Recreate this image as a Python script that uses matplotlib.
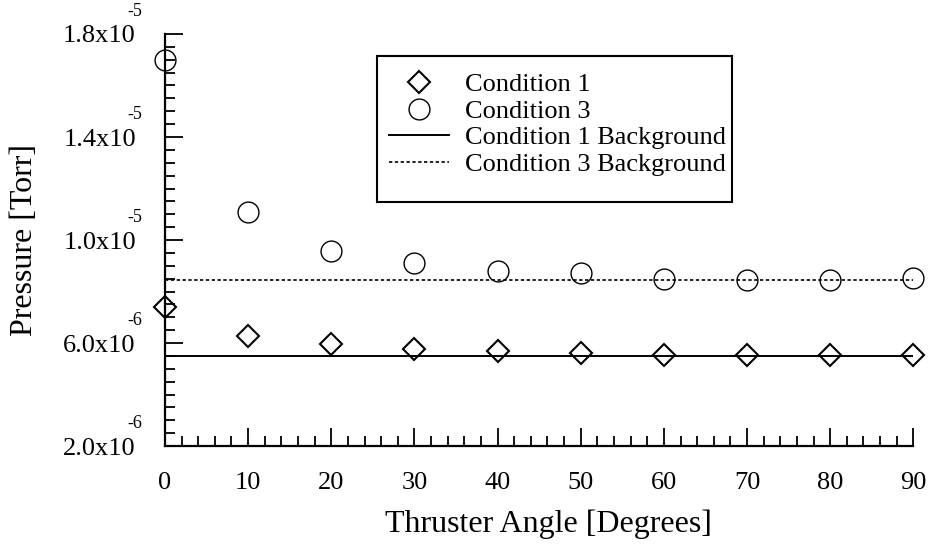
import matplotlib
matplotlib.use('Agg')
import matplotlib.pyplot as plt
from matplotlib.patches import Rectangle
from matplotlib.ticker import FixedLocator, FixedFormatter, MultipleLocator

plt.rcParams['font.family'] = ['Liberation Serif', 'DejaVu Serif']

# thruster angle in degrees
angles = [0, 10, 20, 30, 40, 50, 60, 70, 80, 90]
# pressures in Torr
cond1 = [7.4e-6, 6.27e-6, 5.96e-6, 5.77e-6, 5.69e-6, 5.61e-6, 5.53e-6, 5.53e-6, 5.53e-6, 5.53e-6]
cond3 = [1.70e-5, 1.109e-5, 9.57e-6, 9.11e-6, 8.8e-6, 8.72e-6, 8.5e-6, 8.43e-6, 8.43e-6, 8.52e-6]
cond1_bg = 5.5e-6
cond3_bg = 8.43e-6

ytick_vals = [2e-6, 6e-6, 1e-5, 1.4e-5, 1.8e-5]
ytick_mant = ['2.0x10', '6.0x10', '1.0x10', '1.4x10', '1.8x10']
ytick_exp = ['-6', '-6', '-5', '-5', '-5']
xtick_vals = [0, 10, 20, 30, 40, 50, 60, 70, 80, 90]

fig = plt.figure(figsize=(9.32, 5.48), dpi=100)
ax = fig.add_axes([0.177, 0.186, 0.803, 0.752])

ax.plot(angles, cond1, linestyle='none', marker='D', ms=11, mfc='none', mec='black',
        mew=1.5, clip_on=False, zorder=3, label='Condition 1')
ax.plot(angles, cond3, linestyle='none', marker='o', ms=15, mfc='none', mec='black',
        mew=1.0, clip_on=False, zorder=3, label='Condition 3')
ax.plot([angles[0], angles[-1]], [cond1_bg, cond1_bg], color='black', lw=1.4,
        label='Condition 1 Background')
ax.plot([angles[0], angles[-1]], [cond3_bg, cond3_bg], color='black', lw=1.2,
        linestyle=(0, (2, 1.5)), label='Condition 3 Background')

ax.set_xlim(0, 90)
ax.set_ylim(2e-6, 1.8e-5)

for side in ['top', 'right']:
    ax.spines[side].set_visible(False)
for side in ['left', 'bottom']:
    ax.spines[side].set_linewidth(1.6)

ax.xaxis.set_major_locator(FixedLocator(xtick_vals))
ax.xaxis.set_minor_locator(MultipleLocator(2))
ax.yaxis.set_major_locator(FixedLocator(ytick_vals))
ax.yaxis.set_major_formatter(FixedFormatter(ytick_mant))
ax.yaxis.set_minor_locator(MultipleLocator(0.5e-6))

ax.tick_params(which='both', direction='in', width=1.3, color='black')
ax.tick_params(which='major', length=13)
ax.tick_params(which='minor', length=7)
ax.tick_params(axis='x', which='major', pad=19, labelsize=19)
ax.tick_params(axis='y', which='major', pad=21, labelsize=19)

for val, ex in zip(ytick_vals, ytick_exp):
    ax.annotate(ex, xy=(0, val), xycoords=('axes fraction', 'data'),
                xytext=(-27, 16), textcoords='offset points',
                ha='left', va='center', fontsize=13, annotation_clip=False)

ax.set_xlabel('Thruster Angle [Degrees]', fontsize=23)
ax.set_ylabel('Pressure [Torr]', fontsize=23)
ax.xaxis.set_label_coords(0.513, -0.155)
ax.yaxis.set_label_coords(-0.168, 0.5)

# legend box drawn by hand: the original has extra room under the last row
ax.add_patch(Rectangle((0.2834, 0.5922), 0.4746, 0.3544, transform=ax.transAxes,
                       facecolor='white', edgecolor='black', lw=1.5, zorder=4))
leg = ax.legend(loc='upper left', bbox_to_anchor=(0.283, 0.935), fontsize=19,
                frameon=False, handlelength=2.3, handletextpad=0.6,
                labelspacing=0.12, borderpad=0.45, borderaxespad=0)
leg.set_zorder(5)

fig.savefig('out.png', dpi=100)
